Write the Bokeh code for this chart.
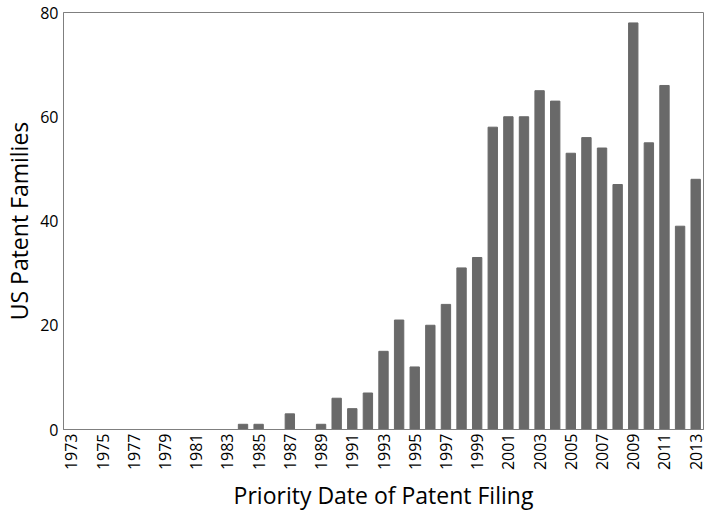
from bokeh.plotting import figure
from bokeh.models import Range1d, FixedTicker
from bokeh.embed import file_html
from bokeh.resources import INLINE
import math

years = list(range(1973, 2014))
counts = [0, 0, 0, 0, 0, 0, 0, 0, 0, 0, 0,
          1, 1, 0, 3, 0, 1, 6, 4, 7, 15, 21, 12, 20, 24, 31, 33,
          58, 60, 60, 65, 63, 53, 56, 54, 47, 78, 55, 66, 39, 48]
x_tick_years = list(range(1973, 2014, 2))
y_ticks = [0, 20, 40, 60, 80]

FONT = "Open Sans"

p = figure(x_range=Range1d(1972.5, 2013.5), y_range=Range1d(0, 80),
           width=706, height=514, output_backend="svg", toolbar_location=None,
           min_border_left=40, min_border_top=12, min_border_right=3, min_border_bottom=60)

p.vbar(x=years, top=counts, width=0.6, color="#696969")

p.xgrid.visible = False
p.ygrid.visible = False
p.outline_line_color = "#7f7f7f"
p.outline_line_width = 1

for ax in (p.xaxis, p.yaxis):
    ax.axis_line_color = "#7f7f7f"
    ax.major_tick_line_color = None
    ax.minor_tick_line_color = None
    ax.major_tick_out = 0
    ax.major_tick_in = 0
    ax.minor_tick_out = 0
    ax.minor_tick_in = 0
    ax.major_label_text_font = FONT
    ax.major_label_text_color = "black"
    ax.major_label_text_font_size = "16px"
    ax.axis_label_text_font = FONT
    ax.axis_label_text_font_style = "normal"
    ax.axis_label_text_font_size = "23px"
    ax.axis_label_text_color = "black"

p.yaxis.ticker = FixedTicker(ticks=y_ticks)
p.yaxis.axis_label = "US Patent Families"
p.yaxis.major_label_standoff = 5
p.yaxis.axis_label_standoff = 2
p.xaxis.ticker = FixedTicker(ticks=x_tick_years)
p.xaxis.axis_label = "Priority Date of Patent Filing"
p.xaxis.major_label_orientation = math.pi / 2
p.xaxis.major_label_standoff = 4
p.xaxis.axis_label_standoff = 6

open("out.html", "w").write(file_html(p, INLINE))
